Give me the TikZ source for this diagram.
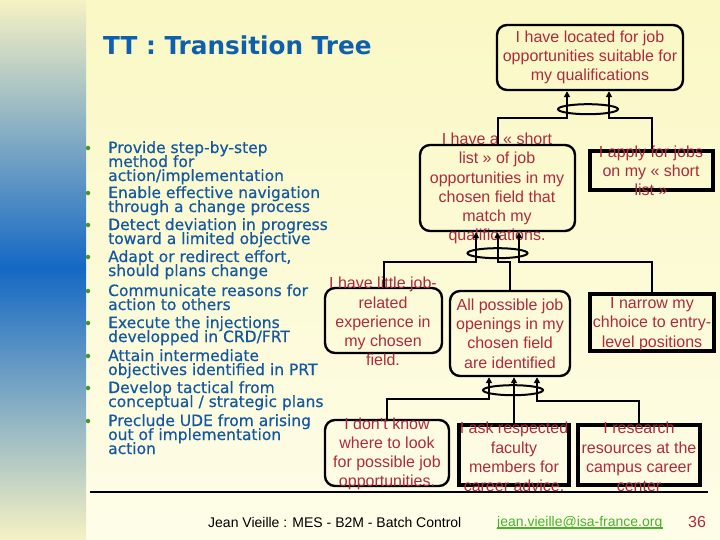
\documentclass[tikz,border=0pt]{standalone}
\usepackage{fontspec}
\setmainfont{Liberation Sans}
\newfontfamily\djv{DejaVu Sans}
\newfontfamily\djvh[FakeBold=0.5]{DejaVu Sans}
\usetikzlibrary{arrows.meta,calc}
\definecolor{bgtop}{RGB}{250,248,196}
\definecolor{bgbot}{RGB}{254,253,232}
\definecolor{stripY}{RGB}{246,242,196}
\definecolor{stripG}{RGB}{184,194,196}
\definecolor{stripG2}{RGB}{170,182,192}
\definecolor{stripB}{RGB}{20,104,196}
\definecolor{titleblue}{RGB}{15,95,175}
\definecolor{textblue}{RGB}{20,88,162}
\definecolor{dotgreen}{RGB}{70,150,40}
\definecolor{boxred}{RGB}{176,42,62}
\definecolor{mailgreen}{RGB}{70,180,40}
\tikzset{
  bt/.style={anchor=base west, inner sep=0, text=textblue, font=\djvh\fontsize{15.5}{14}\selectfont},
  dot/.style={circle, fill=dotgreen, inner sep=0, minimum size=4.5pt},
  rbox/.style={draw=black, rounded corners=10pt, line width=2.4pt, inner sep=0},
  sbox/.style={draw=black, line width=3.6pt, inner sep=0},
  btxt/.style={inner sep=0, align=center, text=boxred, font=\fontsize{16}{19.2}\selectfont},
  conn/.style={draw=black, line width=2pt},
  arr/.style={conn, -{Triangle[width=6pt,length=6pt]}},
  ellip/.style={draw=black, line width=2pt}
}
\begin{document}
\begin{tikzpicture}[x=1pt,y=-1pt]
\useasboundingbox (0,0) rectangle (720,540);
% background
\shade[top color=bgtop, bottom color=bgbot] (86,0) rectangle (720,540);
\shade[top color=stripY, middle color=stripG, bottom color=stripB] (0,0) rectangle (86,268);
\shade[top color=stripB, middle color=stripG2, bottom color=stripY] (0,268) rectangle (86,540);
% title
\node[anchor=base west, inner sep=0, text=titleblue, font=\djv\bfseries\fontsize{24.7}{28}\selectfont] (title) at (103,55) {TT : Transition Tree};
% bullets
\node[dot] (d1) at (88,148) {};
\node[dot] (d2) at (88,193) {};
\node[dot] (d3) at (88,225) {};
\node[dot] (d4) at (88,257) {};
\node[dot] (d5) at (88,291) {};
\node[dot] (d6) at (88,323) {};
\node[dot] (d7) at (88,356) {};
\node[dot] (d8) at (88,388) {};
\node[dot] (d9) at (88,421) {};
\node[bt] (l1) at (108,153) {Provide step-by-step};
\node[bt] (l2) at (108,167) {method for};
\node[bt] (l3) at (108,181) {action/implementation};
\node[bt] (l4) at (108,198) {Enable effective navigation};
\node[bt] (l5) at (108,212) {through a change process};
\node[bt] (l6) at (108,230) {Detect deviation in progress};
\node[bt] (l7) at (108,244) {toward a limited objective};
\node[bt] (l8) at (108,262) {Adapt or redirect effort,};
\node[bt] (l9) at (108,276) {should plans change};
\node[bt] (l10) at (108,296) {Communicate reasons for};
\node[bt] (l11) at (108,310) {action to others};
\node[bt] (l12) at (108,328) {Execute the injections};
\node[bt] (l13) at (108,342) {developped in CRD/FRT};
\node[bt] (l14) at (108,361) {Attain intermediate};
\node[bt] (l15) at (108,375) {objectives identified in PRT};
\node[bt] (l16) at (108,393) {Develop tactical from};
\node[bt] (l17) at (108,407) {conceptual / strategic plans};
\node[bt] (l18) at (108,426) {Preclude UDE from arising};
\node[bt] (l19) at (108,440) {out of implementation};
\node[bt] (l20) at (108,454) {action};
% boxes
\node[rbox, minimum width=186pt, minimum height=65pt] (A) at (590,57.5) {};
\node[rbox, minimum width=155pt, minimum height=86pt] (B) at (497.5,188) {};
\node[sbox, minimum width=123pt, minimum height=39pt] (C) at (651.5,170.5) {};
\node[rbox, minimum width=117pt, minimum height=65pt] (D) at (383.5,320.5) {};
\node[rbox, minimum width=120pt, minimum height=85pt] (E) at (510,333.5) {};
\node[sbox, minimum width=124pt, minimum height=57pt] (F) at (652,322.5) {};
\node[rbox, minimum width=124pt, minimum height=66pt] (G) at (387,453) {};
\node[sbox, minimum width=110pt, minimum height=60pt] (H) at (514,455) {};
\node[sbox, minimum width=122pt, minimum height=60pt] (I) at (639,455) {};
% box texts
\node[btxt] (tA) at (590,57.5) {I have located for job\\opportunities suitable for\\my qualifications};
\node[btxt] (tB) at (497,188.5) {I have a « short\\list » of job\\opportunities in my\\chosen field that\\match my\\qualifications.};
\node[btxt] (tC) at (651,171) {I apply for jobs\\on my « short\\list »};
\node[btxt] (tD) at (383,321.5) {I have little job-\\related\\experience in\\my chosen\\field.};
\node[btxt] (tE) at (510,333.5) {All possible job\\openings in my\\chosen field\\are identified};
\node[btxt] (tF) at (652,324) {I narrow my\\chhoice to entry-\\level positions};
\node[btxt] (tG) at (387,454) {I don't know\\where to look\\for possible job\\opportunities.};
\node[btxt] (tH) at (514,457) {I ask respected\\faculty\\members for\\career advice.};
\node[btxt] (tI) at (639,457) {I research\\resources at the\\campus career\\center};
% connectors to A
\draw[arr] (B.north) |- ($(A.south)+(-23,27)$) -- ($(A.south)+(-23,0)$);
\draw[arr] (C.north) |- ($(A.south)+(19,27)$) -- ($(A.south)+(19,0)$);
\draw[ellip] ($(A.south)+(-2,18)$) ellipse [x radius=30pt, y radius=5pt];
% connectors to B
\draw[arr] (D.north) |- ($(B.south)+(-21.5,30)$) -- ($(B.south)+(-21.5,0)$);
\draw[arr] (E.north) |- ($(B.south)+(0,30)$) -- (B.south);
\draw[arr] (F.north) |- ($(B.south)+(21.5,30)$) -- ($(B.south)+(21.5,0)$);
\draw[ellip] ($(B.south)+(0,21)$) ellipse [x radius=30pt, y radius=5pt];
% connectors to E
\draw[arr] (G.north) |- ($(E.south)+(-21,22)$) -- ($(E.south)+(-21,0)$);
\draw[arr] (H.north) -- (H.north |- E.south);
\draw[arr] (I.north) |- ($(E.south)+(27,24)$) -- ($(E.south)+(27,0)$);
\draw[ellip] ($(E.south)+(3,13)$) ellipse [x radius=30pt, y radius=5pt];
% bottom rule and footer
\draw[line width=2pt] (90,492) -- (708,492);
\node[anchor=base west, inner sep=0, font=\fontsize{14}{16}\selectfont] (foot) at (208,527) {Jean Vieille : MES - B2M - Batch Control};
\node[anchor=base west, inner sep=0, text=mailgreen, font=\fontsize{14}{16}\selectfont] (mail) at (497,526) {jean.vieille@isa-france.org};
\draw[mailgreen, line width=1.2pt] ($(mail.base west)+(0,2)$) -- ($(mail.base east)+(0,2)$);
\node[anchor=base west, inner sep=0, text=boxred, font=\fontsize{16}{18}\selectfont] (page) at (688,527) {36};
\end{tikzpicture}
\end{document}
